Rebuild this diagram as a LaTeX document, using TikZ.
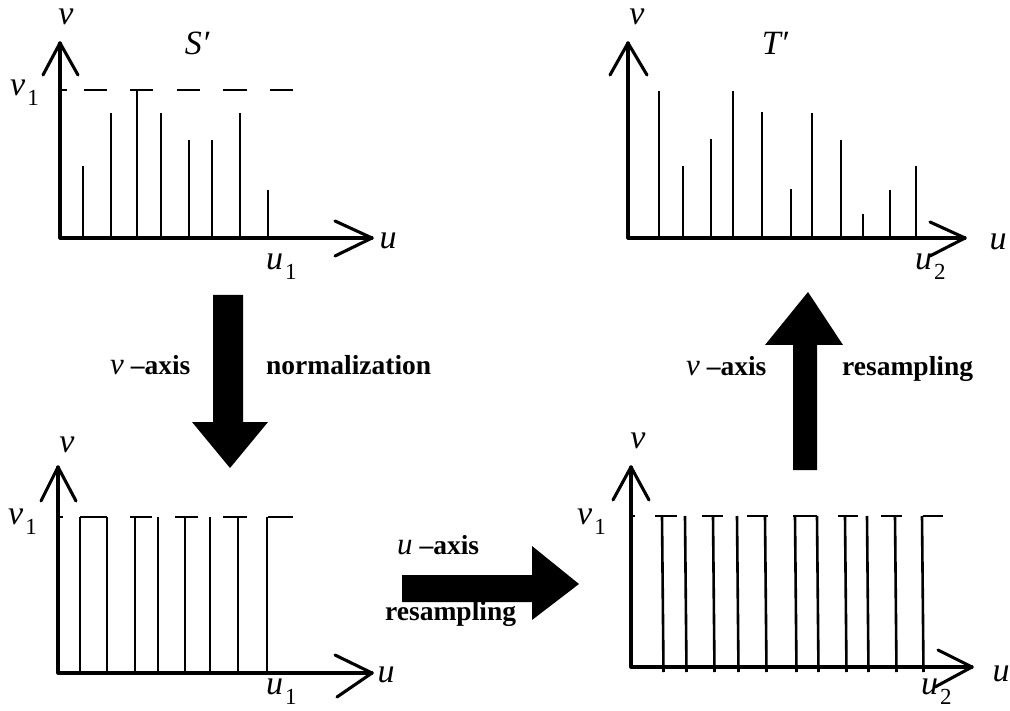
\documentclass[tikz,border=0pt]{standalone}
\usepackage{fontspec}
\setmainfont{Liberation Serif}
\newcommand\sbs[1]{\kern2pt\raisebox{-0.3em}{\upshape\fontsize{23}{23}\selectfont #1}}
\newcommand\itv[1]{{\mdseries\itshape\fontsize{31}{31}\selectfont #1}}
\begin{document}
\begin{tikzpicture}[x=1pt,y=-1pt,
  axisl/.style={line width=3.1pt, line cap=round, line join=round},
  bar/.style={line width=2.6pt},
  lvl/.style={line width=2.8pt},
  lab/.style={font=\fontsize{34}{34}\selectfont\itshape, inner sep=0pt},
  blab/.style={font=\fontsize{27.5}{27.5}\selectfont\bfseries, inner sep=0pt},
  bigarrow/.style={fill=black, draw=none}]
\useasboundingbox (0,0) rectangle (1010,711);

% ---------- panel A (top left) ----------
\coordinate (A0) at (60,238);
\coordinate (Av) at (60,43);
\coordinate (Au) at (372,238);
\draw[axisl] (Av) -- (A0) -- (Au);
\draw[axisl] ([shift={(-17,32)}]Av) -- (Av) -- ([shift={(18,32)}]Av);
\draw[axisl] ([shift={(-37,-17)}]Au) -- (Au) -- ([shift={(-37,18)}]Au);
\foreach \x/\t in {83/166,111/113,137/90,161/113,189/140,212/140,240/113,268/190}
  \draw[bar] (\x,238) -- (\x,\t);
\foreach \a/\b in {62/67,84/107,130/153,177/200,223/247,270/293}
  \draw[lvl] (\a,90) -- (\b,90);
\node[lab] (Alv) at (66,17) {v};
\node[lab] (AS) at (197,43) {S′};
\node[lab,anchor=west] (Av1) at (10,93) {v\sbs{1}};
\node[lab] (Alu) at (388,241) {u};
\node[lab,anchor=west] (Au1) at (266,267) {u\sbs{1}};

% ---------- panel B (top right) ----------
\coordinate (B0) at (628,238);
\coordinate (Bv) at (628,43);
\coordinate (Bu) at (965,238);
\draw[axisl] (Bv) -- (B0) -- (Bu);
\draw[axisl] ([shift={(-18,32)}]Bv) -- (Bv) -- ([shift={(19,32)}]Bv);
\draw[axisl] ([shift={(-35,-16)}]Bu) -- (Bu) -- ([shift={(-35,18)}]Bu);
\foreach \x/\t in {659/91,683/166,711/139,733/91,762/112,791/189,812/113,841/140,863/214,890/190,916/166}
  \draw[bar] (\x,238) -- (\x,\t);
\node[lab] (Blv) at (637,17) {v};
\node[lab] (BT) at (775,43) {T′};
\node[lab] (Blu) at (998,242) {u};
\node[lab,anchor=west] (Bu2) at (915,267) {u\sbs{2}};

% ---------- panel C (bottom left) ----------
\coordinate (C0) at (58,673);
\coordinate (Cv) at (58,467);
\coordinate (Cu) at (372,673);
\draw[axisl] (Cv) -- (C0) -- (Cu);
\draw[axisl] ([shift={(-17,34)}]Cv) -- (Cv) -- ([shift={(18,34)}]Cv);
\draw[axisl] ([shift={(-37,-18)}]Cu) -- (Cu) -- ([shift={(-35,24)}]Cu);
\foreach \x in {80,107,135,158,185,210,238,267}
  \draw[bar] (\x,517) -- (\x,673);
\foreach \a/\b in {58/63,80/107,130/152,175/198,223/247,268/293}
  \draw[lvl] (\a,517) -- (\b,517);
\node[lab] (Clv) at (67,445) {v};
\node[lab,anchor=west] (Cv1) at (8,522) {v\sbs{1}};
\node[lab] (Clu) at (386,675) {u};
\node[lab,anchor=west] (Cu1) at (266,692) {u\sbs{1}};

% ---------- panel D (bottom right) ----------
\coordinate (D0) at (631,667);
\coordinate (Dv) at (631,467);
\coordinate (Du) at (972,667);
\draw[axisl] (Dv) -- (D0) -- (Du);
\draw[axisl] ([shift={(-18,33)}]Dv) -- (Dv) -- ([shift={(18,33)}]Dv);
\draw[axisl] ([shift={(-34,-17)}]Du) -- (Du) -- ([shift={(-37,20)}]Du);
\foreach \x in {662,685,713,737,765,795,817,845,867,895,922}
  \draw[bar] (\x,516) -- (\x+1.5,672);
\foreach \a/\b in {631/635,655/677,702/723,747/768,793/817,838/858,881/902,923/943}
  \draw[lvl] (\a,516) -- (\b,516);
\node[lab] (Dlv) at (638,441) {v};
\node[lab,anchor=west] (Dv1) at (577,522) {v\sbs{1}};
\node[lab] (Dlu) at (1001,674) {u};
\node[lab,anchor=west] (Du2) at (921,692) {u\sbs{2}};

% ---------- big arrows ----------
\fill[bigarrow] (213,295) -- (243,295) -- (243,422) -- (268,422) -- (230,468)
  -- (192,422) -- (213,422) -- cycle;
\fill[bigarrow] (402,575) -- (532,575) -- (532,546) -- (579,584) -- (532,620)
  -- (532,602) -- (402,602) -- cycle;
\fill[bigarrow] (793,470) -- (793,345) -- (765,345) -- (808,292) -- (843,345)
  -- (817,345) -- (817,470) -- cycle;

\node[blab,anchor=base west] (L1) at (110,375) {\itv{v} –axis};
\node[blab,anchor=base west] (L2) at (266,375) {normalization};
\node[blab,anchor=base west] (L3) at (397,554) {\itv{u} –axis};
\node[blab,anchor=base west] (L4) at (385,620) {resampling};
\node[blab,anchor=base west] (L5) at (686,376) {\itv{v} –axis};
\node[blab,anchor=base west] (L6) at (842,376) {resampling};
\end{tikzpicture}
\end{document}
